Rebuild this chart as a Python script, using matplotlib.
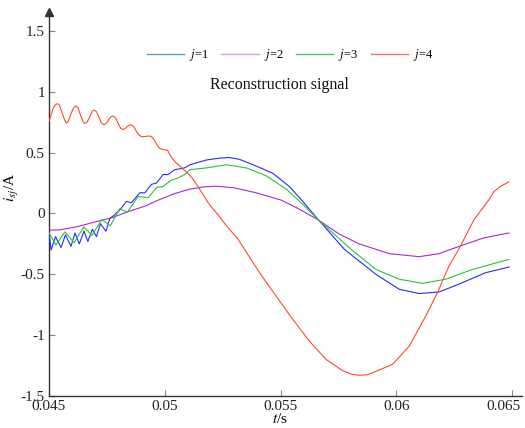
import matplotlib
matplotlib.use("Agg")
import matplotlib.pyplot as plt
from matplotlib.lines import Line2D
import matplotlib.transforms as mtransforms

plt.rcParams['font.family'] = ['Liberation Serif', 'DejaVu Serif']
plt.rcParams['mathtext.fontset'] = 'stix'

# ---- data ----
t_j1 = [0.04500, 0.04509, 0.04528, 0.04552, 0.04571, 0.04595, 0.04612, 0.04631,
        0.04651, 0.04668, 0.04687, 0.04705, 0.04722, 0.04746, 0.04763, 0.04784,
        0.04806, 0.04835, 0.04856, 0.04892, 0.04914, 0.04943, 0.04964, 0.04993,
        0.05014, 0.05043, 0.05086, 0.05108, 0.05180, 0.05237, 0.05280, 0.05323,
        0.05395, 0.05467, 0.05539, 0.05582, 0.05665, 0.05776, 0.05912, 0.06013,
        0.06099, 0.06185, 0.06271, 0.06387, 0.06487]
v_j1 = [-0.16, -0.30, -0.19, -0.28, -0.175, -0.27, -0.16, -0.25,
        -0.145, -0.23, -0.13, -0.19, -0.085, -0.145, -0.04, -0.01,
        0.03, 0.10, 0.088, 0.17, 0.17, 0.24, 0.25, 0.32,
        0.32, 0.36, 0.375, 0.40, 0.44, 0.455, 0.46, 0.445,
        0.39, 0.33, 0.22, 0.13, -0.055, -0.295, -0.50, -0.623,
        -0.658, -0.645, -0.58, -0.486, -0.44]

t_j2 = [0.04500, 0.04547, 0.04625, 0.04698, 0.04772, 0.04849, 0.04914, 0.04978,
        0.05043, 0.05108, 0.05172, 0.05223, 0.05302, 0.05395, 0.05503, 0.05582,
        0.05665, 0.05754, 0.05840, 0.05970, 0.06099, 0.06185, 0.06271, 0.06379,
        0.06487]
v_j2 = [-0.137, -0.135, -0.107, -0.07, -0.035, 0.02, 0.06, 0.115,
        0.164, 0.20, 0.22, 0.224, 0.21, 0.17, 0.11, 0.035,
        -0.055, -0.17, -0.25, -0.33, -0.355, -0.33, -0.27, -0.20,
        -0.16]

t_j3 = [0.04501, 0.04530, 0.04569, 0.04608, 0.04651, 0.04685, 0.04728, 0.04765,
        0.04806, 0.04838, 0.04885, 0.04928, 0.04966, 0.04991, 0.05029, 0.05056,
        0.05086, 0.05108, 0.05180, 0.05266, 0.05352, 0.05438, 0.05525, 0.05582,
        0.05665, 0.05805, 0.05912, 0.06013, 0.06113, 0.06214, 0.06329, 0.06487]
v_j3 = [-0.16, -0.26, -0.15, -0.24, -0.11, -0.18, -0.05, -0.10,
        0.04, 0.01, 0.14, 0.13, 0.215, 0.22, 0.275, 0.29,
        0.32, 0.36, 0.375, 0.40, 0.375, 0.31, 0.20, 0.10,
        -0.055, -0.295, -0.46, -0.54, -0.574, -0.54, -0.46, -0.377]

t_j4 = [0.04500, 0.04511, 0.04519, 0.04530, 0.04538, 0.04545, 0.04556, 0.04567,
        0.04575, 0.04584, 0.04595, 0.04606, 0.04615, 0.04625, 0.04636, 0.04647,
        0.04655, 0.04666, 0.04677, 0.04687, 0.04695, 0.04705, 0.04716, 0.04726,
        0.04737, 0.04748, 0.04759, 0.04769, 0.04777, 0.04787, 0.04800, 0.04810,
        0.04820, 0.04830, 0.04841, 0.04853, 0.04866, 0.04879, 0.04892, 0.04902,
        0.04914, 0.04927, 0.04940, 0.04953, 0.04966, 0.04978, 0.04991, 0.05012,
        0.05029, 0.05047, 0.05065, 0.05082, 0.05100, 0.05121, 0.05144, 0.05164,
        0.05187, 0.05207, 0.05230, 0.05266, 0.05316, 0.05409, 0.05500, 0.05553,
        0.05625, 0.05697, 0.05767, 0.05805, 0.05840, 0.05875, 0.05909, 0.05984,
        0.06056, 0.06128, 0.06178, 0.06228, 0.06271, 0.06336, 0.06401, 0.06422,
        0.06452, 0.06487]
v_j4 = [0.757, 0.82, 0.87, 0.897, 0.902, 0.89, 0.83, 0.77,
        0.742, 0.76, 0.82, 0.868, 0.885, 0.87, 0.81, 0.755,
        0.74, 0.755, 0.80, 0.84, 0.85, 0.837, 0.79, 0.745,
        0.73, 0.74, 0.775, 0.797, 0.80, 0.787, 0.735, 0.70,
        0.69, 0.70, 0.72, 0.73, 0.715, 0.67, 0.64, 0.63,
        0.632, 0.636, 0.635, 0.61, 0.565, 0.535, 0.525, 0.52,
        0.46, 0.42, 0.39, 0.36, 0.33, 0.285, 0.22, 0.16,
        0.09, 0.04, -0.01, -0.10, -0.21, -0.486, -0.73, -0.87,
        -1.05, -1.20, -1.29, -1.32, -1.33, -1.325, -1.30, -1.24,
        -1.09, -0.84, -0.65, -0.43, -0.29, -0.05, 0.115, 0.18,
        0.225, 0.26]

series_labels = ['j=1', 'j=2', 'j=3', 'j=4']
line_colors = ['#2a2aff', '#a52ad6', '#28c43a', '#ff4a2a']
legend_colors = ['#5a9ad6', '#cfa6e0', '#44c46c', '#f07070']

x_ticks = [0.045, 0.05, 0.055, 0.06, 0.065]
x_ticklabels = ['0.045', '0.05', '0.055', '0.06', '0.065']
y_ticks = [-1.5, -1, -0.5, 0, 0.5, 1, 1.5]
y_ticklabels = ['-1.5', '-1', '-0.5', '0', '0.5', '1', '1.5']

# ---- figure ----
fig = plt.figure(figsize=(5.25, 4.28), dpi=100)
ax = fig.add_axes([49/525, 32/428, 473/525, 384/428])

data = [(t_j1, v_j1), (t_j2, v_j2), (t_j3, v_j3), (t_j4, v_j4)]
order = [3, 1, 2, 0]
for i in order:
    t, v = data[i]
    ax.plot(t, v, color=line_colors[i], lw=0.8, zorder=3 + i)

ax.set_xlim(0.045, 0.06543)
ax.set_ylim(-1.5, 1.656)

ax.set_xticks(x_ticks)
ax.set_xticklabels(x_ticklabels)
ax.set_yticks(y_ticks)
ax.set_yticklabels(y_ticklabels)
ax.tick_params(direction='in', length=4, width=0.8, color='#888888',
               labelsize=11, labelcolor='#222222', pad=3)

# shift the last x tick label left so it stays inside the picture
last = ax.get_xticklabels()[-1]
last.set_transform(last.get_transform() +
                   mtransforms.ScaledTranslation(-9/100, 0, fig.dpi_scale_trans))

for s in ['top', 'right']:
    ax.spines[s].set_visible(False)
for s in ['left', 'bottom']:
    ax.spines[s].set_linewidth(1.0)
    ax.spines[s].set_color('#333333')

# arrow at top of y axis
ax.plot([0], [1], marker='^', markersize=6, color='#333333',
        transform=ax.transAxes, clip_on=False, zorder=10)

ax.set_xlabel(r'$t$/s', fontsize=11)
ax.xaxis.set_label_coords((280 - 49) / 473, (396 - 412) / 384)
ax.set_ylabel(r'$i_{sj}$/A', fontsize=11)
ax.yaxis.set_label_coords((21 - 49) / 473, (396 - 187) / 384)

handles = [Line2D([], [], color=c, lw=1.0) for c in legend_colors]
labels = [r'$j$=' + s.split('=')[1] for s in series_labels]
fig.legend(handles, labels, loc='center', bbox_to_anchor=(290/525, 1 - 55/428),
           ncol=4, frameon=False, fontsize=9, handlelength=3.0,
           handletextpad=0.4, columnspacing=1.0)

fig.text(279/525, 1 - 85/428, 'Reconstruction signal', ha='center', va='center',
         fontsize=11.5, color='#111111')

fig.savefig('out.png', dpi=100)
